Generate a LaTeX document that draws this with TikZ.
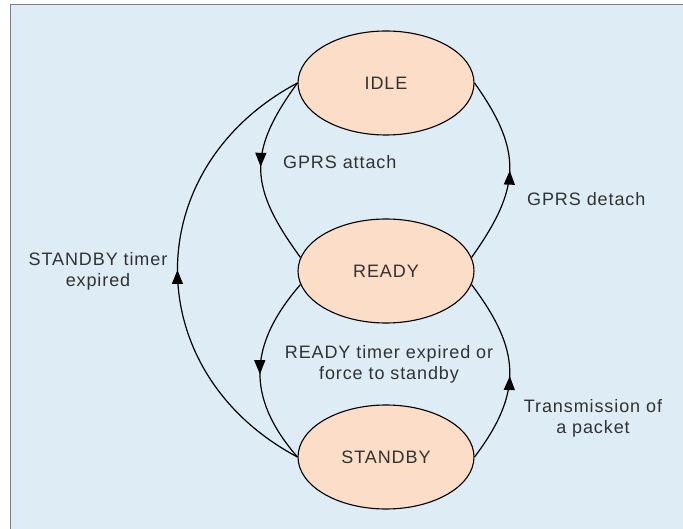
\documentclass[tikz,border=0pt]{standalone}
\usepackage{fontspec}
\setmainfont{Liberation Sans}[LetterSpace=5]
\usetikzlibrary{shapes.geometric,arrows.meta,decorations.markings}
\definecolor{bgblue}{RGB}{222,236,246}
\definecolor{statefill}{RGB}{252,221,200}
\definecolor{txtgray}{RGB}{50,50,50}
\definecolor{framegray}{RGB}{128,128,128}
\tikzset{
  state/.style={ellipse,draw=black,line width=1.1pt,fill=statefill,
    minimum width=176pt,minimum height=104pt,inner sep=0pt,
    font=\fontsize{18}{21}\selectfont,text=txtgray},
  lbl/.style={font=\fontsize{18}{21}\selectfont,text=txtgray,align=center,inner sep=0pt},
  conn/.style={draw=black,line width=1.2pt},
  marrow/.style={postaction={decorate},decoration={markings,
    mark=at position #1 with {\arrow{Triangle[length=14pt,width=11pt]}}}}
}
\begin{document}
\begin{tikzpicture}[x=1pt,y=-1pt]
\useasboundingbox (0,0) rectangle (683,529);
\fill[white] (0,0) rectangle (683,529);
\fill[bgblue] (10,5) rectangle (683,529);
\draw[framegray,line width=1pt] (10,529) -- (10,5) -- (683,5);

\node[state] (idle) at (386,83) {IDLE};
\node[state] (ready) at (386,271) {READY};
\node[state] (standby) at (386,457) {STANDBY};

\path[conn,marrow=0.48] (idle.west) .. controls +(-51,70) and +(-51,-70) .. (ready.171);
\path[conn,marrow=0.5] (ready.9) .. controls +(49,-69) and +(49,69) .. (idle.east);
\path[conn,marrow=0.52] (ready.189) .. controls +(-52,60) and +(-52,-60) .. (standby.west);
\path[conn,marrow=0.47] (standby.east) .. controls +(49,-65) and +(49,65) .. (ready.-9);
\path[conn,marrow=0.5] (standby.west) .. controls +(-160,-85) and +(-160,85) .. (idle.west);

\node[lbl,anchor=west] (l1) at (283,162) {GPRS attach};
\node[lbl,anchor=west] (l2) at (527,199) {GPRS detach};
\node[lbl] (l3) at (98,271) {STANDBY timer\\expired};
\node[lbl] (l4) at (389,364) {READY timer expired or\\force to standby};
\node[lbl] (l5) at (593,418) {Transmission of\\a packet};
\end{tikzpicture}
\end{document}
